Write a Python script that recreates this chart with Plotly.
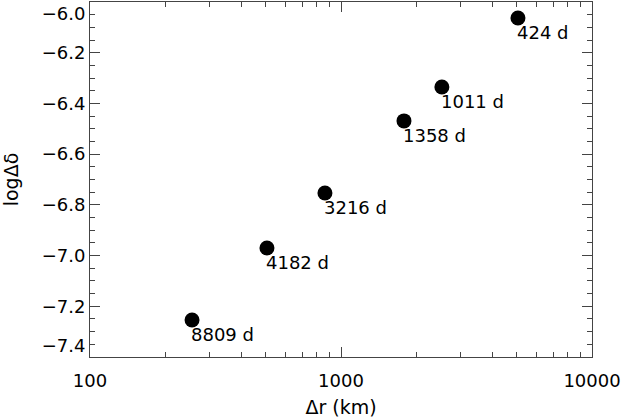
import math
import plotly.graph_objects as go

dr_km = [5070, 2523, 1782, 863, 507, 255]
log_dd = [-6.063, -6.335, -6.469, -6.753, -6.970, -7.254]
labels = ["424 d", "1011 d", "1358 d", "3216 d", "4182 d", "8809 d"]

x_tickvals = [100, 1000, 10000]
x_ticktext = ["100", "1000", "10000"]
y_tickvals = [-7.4, -7.2, -7.0, -6.8, -6.6, -6.4, -6.2, -6.0]
y_ticktext = ["\u22127.4<br> ", "\u22127.2", "\u22127.0", "\u22126.8", "\u22126.6", "\u22126.4", "\u22126.2", " <br>\u22126.0"]

FONT = "DejaVu Sans"

fig = go.Figure()
fig.add_trace(go.Scatter(
    x=dr_km, y=log_dd, mode="markers",
    marker=dict(size=15, color="black"),
    showlegend=False, hoverinfo="skip", cliponaxis=False))

for xv, yv, t in zip(dr_km, log_dd, labels):
    fig.add_annotation(x=math.log10(xv), y=yv, text=t, showarrow=False,
                       xanchor="left", yanchor="top", xshift=-3, yshift=-2,
                       font=dict(family=FONT, size=18, color="black"))

axis_common = dict(showline=True, linecolor="#444", linewidth=1, mirror="allticks",
                   ticks="inside", ticklen=10, tickcolor="#444", showgrid=False,
                   zeroline=False, automargin=False, ticklabeloverflow="allow",
                   tickfont=dict(family=FONT, size=18, color="black"))

fig.update_xaxes(type="log", range=[2, 4], tickvals=x_tickvals, ticktext=x_ticktext,
                 ticklabelstandoff=7,
                 title=dict(text="\u0394r (km)", font=dict(family=FONT, size=19, color="black"), standoff=11),
                 minor=dict(ticks="inside", ticklen=5, tickcolor="#444", dtick="D1", showgrid=False),
                 **axis_common)
fig.update_yaxes(range=[-7.4, -6.0], tickvals=y_tickvals, ticktext=y_ticktext,
                 title=dict(text="log\u0394\u03b4", font=dict(family=FONT, size=19, color="black"), standoff=23),
                 minor=dict(ticks="inside", ticklen=5, tickcolor="#444", dtick=0.05, showgrid=False),
                 **axis_common)

fig.update_layout(width=624, height=419, margin=dict(l=90, r=32, t=2, b=62),
                  plot_bgcolor="white", paper_bgcolor="white", hovermode=False)
fig.write_html("out.html", config={"displayModeBar": False, "staticPlot": True},
               post_script="document.body.style.margin='0';document.body.style.overflow='hidden';")
